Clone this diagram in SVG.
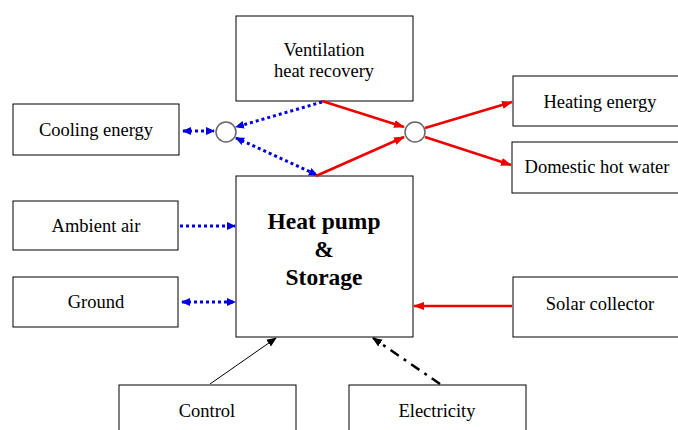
<svg xmlns="http://www.w3.org/2000/svg" width="678" height="430" viewBox="0 0 678 430">
<style>
.box{fill:#fff;stroke:#000;stroke-width:1}
.t{font-family:"Liberation Serif","Times New Roman",serif;font-size:18.5px;text-anchor:middle;fill:#000}
.tb{font-family:"Liberation Serif","Times New Roman",serif;font-size:23.5px;font-weight:bold;text-anchor:middle;fill:#000}
.blue{stroke:#0000e0;stroke-width:3;stroke-dasharray:3 3;fill:none}
.red{stroke:#ee0000;stroke-width:2.5;fill:none}
.circ{fill:#fff;stroke:#666;stroke-width:1.5}
</style>
<defs>
<marker id="ab" markerWidth="10" markerHeight="10" refX="8" refY="5" orient="auto-start-reverse" markerUnits="userSpaceOnUse"><path d="M0,1 L9,5 L0,9 Z" fill="#0000e0"/></marker>
<marker id="ar" markerWidth="12" markerHeight="10" refX="10" refY="5" orient="auto" markerUnits="userSpaceOnUse"><path d="M0,1 L11,5 L0,9 Z" fill="#ee0000"/></marker>
<marker id="ak" markerWidth="10" markerHeight="10" refX="9" refY="5" orient="auto" markerUnits="userSpaceOnUse"><path d="M0,1 L10,5 L0,9 Z" fill="#000"/></marker>
</defs>
<rect width="678" height="430" fill="#fff"/>
<g id="ventilation"><rect class="box" x="236" y="16" width="177" height="85"/><text class="t" x="324" y="56">Ventilation</text><text class="t" x="324" y="77">heat recovery</text></g>
<g id="heatpump"><rect class="box" x="236" y="176" width="177" height="161"/><text class="tb" x="324" y="229">Heat pump</text><text class="tb" x="324" y="257">&amp;</text><text class="tb" x="324" y="285">Storage</text></g>
<g id="cooling"><rect class="box" x="13" y="104" width="166" height="51"/><text class="t" x="96" y="136">Cooling energy</text></g>
<g id="ambient"><rect class="box" x="13" y="201" width="165" height="49"/><text class="t" x="96" y="232">Ambient air</text></g>
<g id="ground"><rect class="box" x="13" y="277" width="165" height="50"/><text class="t" x="96" y="308">Ground</text></g>
<g id="heating"><rect class="box" x="513" y="76" width="170" height="50"/><text class="t" x="600" y="108">Heating energy</text></g>
<g id="dhw"><rect class="box" x="512" y="142" width="171" height="51"/><text class="t" x="597" y="173">Domestic hot water</text></g>
<g id="solar"><rect class="box" x="513" y="277" width="170" height="60"/><text class="t" x="600" y="310">Solar collector</text></g>
<g id="control"><rect class="box" x="119" y="385" width="177" height="50"/><text class="t" x="207" y="417">Control</text></g>
<g id="electricity"><rect class="box" x="349" y="385" width="177" height="50"/><text class="t" x="437" y="417">Electricity</text></g>
<g id="connectors">
<line class="blue" x1="183" y1="131" x2="214" y2="131" marker-start="url(#ab)" marker-end="url(#ab)"/>
<line class="blue" x1="322" y1="102" x2="236" y2="127" marker-end="url(#ab)"/>
<line class="blue" x1="236" y1="138" x2="317" y2="175" marker-start="url(#ab)" marker-end="url(#ab)"/>
<line class="blue" x1="180" y1="226" x2="235" y2="226" marker-end="url(#ab)"/>
<line class="blue" x1="182" y1="302" x2="235" y2="302" marker-start="url(#ab)" marker-end="url(#ab)"/>
<line class="red" x1="322" y1="101" x2="404" y2="127" marker-end="url(#ar)"/>
<line class="red" x1="316" y1="176" x2="404" y2="137" marker-end="url(#ar)"/>
<line class="red" x1="425" y1="128" x2="512" y2="102" marker-end="url(#ar)"/>
<line class="red" x1="425" y1="137" x2="511" y2="165" marker-end="url(#ar)"/>
<line class="red" x1="512" y1="306" x2="414" y2="306" marker-end="url(#ar)"/>
<line x1="210" y1="384" x2="276" y2="338" stroke="#000" stroke-width="1" marker-end="url(#ak)"/>
<line x1="440" y1="384" x2="373" y2="338" stroke="#000" stroke-width="2.5" stroke-dasharray="10 6 3 6" marker-end="url(#ak)"/>
<circle class="circ" cx="226" cy="132" r="10"/>
<circle class="circ" cx="415" cy="132" r="10"/>
</g>
</svg>
